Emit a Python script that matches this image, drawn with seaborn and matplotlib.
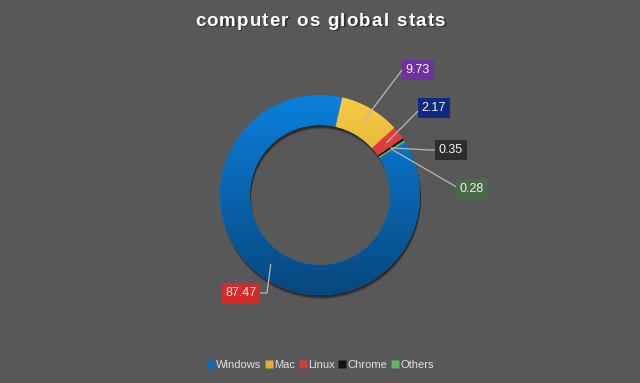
import numpy as np
import matplotlib
matplotlib.use("Agg")
import matplotlib.pyplot as plt
import matplotlib.colors as mcolors
from matplotlib.patches import Wedge
import seaborn as sns

# ---- data ----
categories = ["Windows", "Mac", "Linux", "Chrome", "Others"]
values = [87.47, 9.73, 2.17, 0.35, 0.28]
label_texts = ["87.47", "9.73", "2.17", "0.35", "0.28"]
title = "computer os global stats"

# ---- styles ----
BG = "#585858"
top_colors = ["#0a80dc", "#f7cb45", "#e84444", "#1a1a1a", "#6cc46c"]
bot_colors = ["#07477e", "#c0902a", "#b52a2a", "#000000", "#4a9a4a"]
legend_colors = ["#0a6cc0", "#e0b030", "#d83a3a", "#111111", "#5cb85c"]
box_colors = ["#d42a2a", "#7030a0", "#102a80", "#2e2e2e", "#4a6a4a"]
# label box centers / elbow points in pixels (x, y from top)
box_pos = [(241, 293), (418, 70), (434, 108), (451, 150), (472, 189)]
elbows = [(267, 293), (402, 70), (421, 108), (430, 150), (460, 189)]

sns.set_theme(style="dark", rc={"figure.facecolor": BG, "axes.facecolor": BG})
plt.rcParams["font.family"] = ["Liberation Sans", "DejaVu Sans"]

W, H = 640, 383
fig = plt.figure(figsize=(6.4, 3.83), dpi=100)
ax = fig.add_axes([0, 0, 1, 1])
ax.set_xlim(0, W)
ax.set_ylim(0, H)
ax.set_aspect("equal")
ax.axis("off")

def Y(y):
    return H - y

cx, cy = 320, Y(195)
R, width = 100, 30
start = 90 - 58

# shadow ring
for dy, a in [(4, 0.18), (3, 0.22), (2, 0.25)]:
    sh = Wedge((cx + 1, cy - dy), R, 0, 360, width=width, facecolor="black",
               edgecolor="none", alpha=a, zorder=1)
    ax.add_patch(sh)

wedges, _ = ax.pie(values, colors=top_colors, startangle=start, counterclock=False,
                   radius=R, center=(cx, cy), frame=True,
                   wedgeprops=dict(width=width, edgecolor="none", zorder=2))
ax.set_xlim(0, W)
ax.set_ylim(0, H)
ax.axis("off")

# gradient fill
for w, ct, cb in zip(wedges, top_colors, bot_colors):
    cmap = mcolors.LinearSegmentedColormap.from_list("g", [cb, ct])
    grad = np.linspace(0, 1, 256).reshape(-1, 1)
    im = ax.imshow(grad, extent=(cx - R, cx + R, cy - R, cy + R), origin="lower",
                   cmap=cmap, aspect="auto", zorder=3)
    im.set_clip_path(w)

# labels with leader lines
for w, txt, bc, bp, el in zip(wedges, label_texts, box_colors, box_pos, elbows):
    th = np.deg2rad((w.theta1 + w.theta2) / 2)
    ax0 = cx + 85 * np.cos(th)
    ay0 = cy + 85 * np.sin(th)
    ex, ey = el
    bx, by = bp
    ax.plot([ax0, ex, bx], [ay0, Y(ey), Y(by)], color="#b8b8b8", lw=0.9, zorder=5)
    ax.text(bx, Y(by), txt, ha="center", va="center", color="#f2f2f2", fontsize=9,
            zorder=6,
            bbox=dict(boxstyle="square,pad=0.3", facecolor=bc, edgecolor="none"))

# title with letter spacing
renderer = fig.canvas.get_renderer()
fs, spacing = 13.5, 1.2
widths = []
for ch in title:
    t = ax.text(0, 0, ch if ch != " " else "n", fontsize=fs, fontweight="bold")
    bb = t.get_window_extent(renderer)
    widths.append(bb.width * (0.5 if ch == " " else 1.0))
    t.remove()
total = sum(widths) + spacing * (len(title) - 1)
x = W / 2 - total / 2
ty = Y(21)
for ch, wd in zip(title, widths):
    if ch != " ":
        ax.text(x + 1.2, ty - 1.2, ch, ha="left", va="center", fontsize=fs,
                fontweight="bold", color="#1a1a1a", alpha=0.6)
        ax.text(x, ty, ch, ha="left", va="center", fontsize=fs,
                fontweight="bold", color="#ffffff")
    x += wd + spacing

# legend
handles = [plt.Line2D([0], [0], marker="s", linestyle="none", markersize=5.5,
                      markerfacecolor=c, markeredgecolor="none") for c in legend_colors]
leg = fig.legend(handles, categories, loc="center", bbox_to_anchor=(0.5, 1 - 365 / H),
                 ncol=5, frameon=False, fontsize=8, handletextpad=0.1,
                 columnspacing=0.25, labelcolor="#e0e0e0", handlelength=0.8)

fig.savefig("out.png", dpi=100, facecolor=BG)
